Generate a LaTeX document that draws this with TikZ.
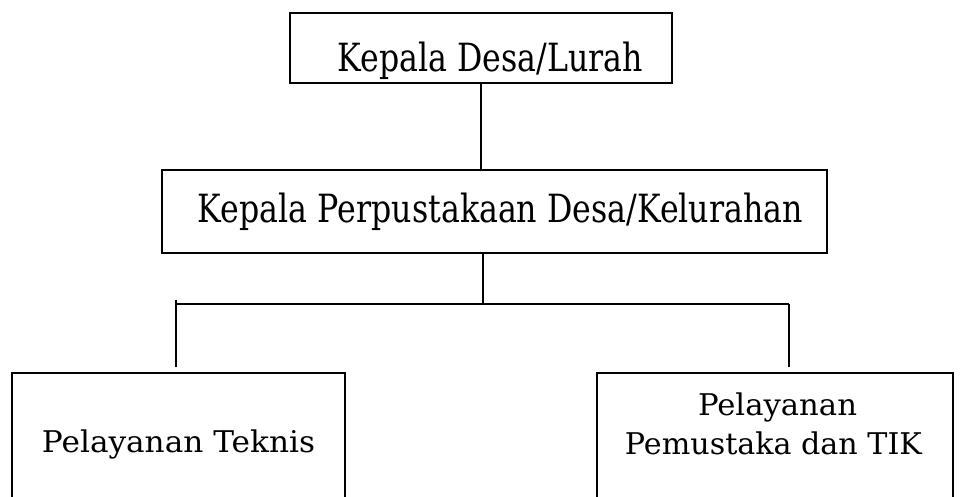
\documentclass[tikz,border=0pt]{standalone}
\usepackage{fontspec}
\setmainfont{DejaVu Serif}
\usepackage{graphicx}
\usetikzlibrary{calc}
\tikzset{
 boxnode/.style={draw=black, line width=2.8bp, rectangle, inner sep=0pt},
 conn/.style={draw=black, line width=1.4bp},
 hconn/.style={draw=black, line width=2.8bp},
 lbl/.style={anchor=base, inner sep=0pt, text=black}
}
\newcommand{\bigtxt}[2]{\resizebox{#1bp}{\height}{\fontsize{39}{48}\selectfont #2}}
\newcommand{\smtxt}[2]{\resizebox{#1bp}{\height}{\fontsize{30}{36}\selectfont #2}}
\begin{document}
\begin{tikzpicture}[x=1bp,y=-1bp]
\useasboundingbox (0,0) rectangle (970,497);
\clip (0,0) rectangle (970,497);
\node[boxnode, minimum width=382bp, minimum height=70bp] (top) at (481,48) {};
\node[boxnode, minimum width=665bp, minimum height=83bp] (mid) at (494.5,211.5) {};
\node[boxnode, minimum width=333bp, minimum height=157bp] (lbox) at (178.5,451.5) {};
\node[boxnode, minimum width=356bp, minimum height=157bp] (rbox) at (775,451.5) {};
\coordinate (j) at (483,304);
\coordinate (jl) at (176,304);
\coordinate (jr) at (789,304);
\draw[conn] (top.south) -- (top.south |- mid.north);
\draw[conn] (j |- mid.south) -- (j);
\draw[hconn] (jl) -- (jr);
\draw[conn] ($(jl)+(0,-4)$) -- ($(jl |- lbox.north)+(0,-5)$);
\draw[conn] (jr) -- ($(jr |- rbox.north)+(0,-5)$);
\node[lbl] (t1) at (490.5,72) {\bigtxt{305}{Kepala Desa/Lurah}};
\node[lbl] (t2) at (500.5,223) {\bigtxt{605}{Kepala Perpustakaan Desa/Kelurahan}};
\node[lbl] (t3) at (178.5,452) {\smtxt{273}{Pelayanan Teknis}};
\node[lbl] (t4) at (777.5,415) {\smtxt{159}{Pelayanan}};
\node[lbl] (t5) at (773.5,454) {\smtxt{297}{Pemustaka dan TIK}};
\end{tikzpicture}
\end{document}
